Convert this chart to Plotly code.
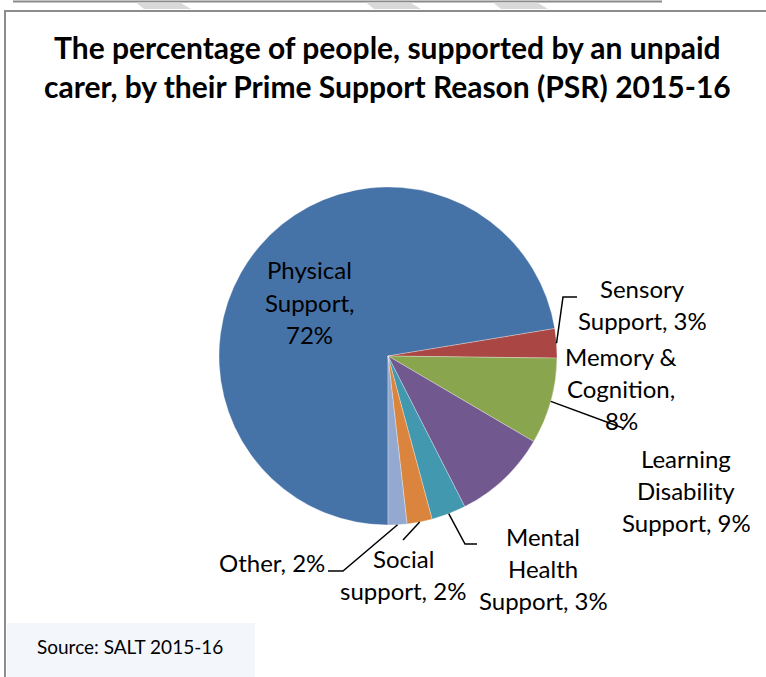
import math
import plotly.graph_objects as go

# Prime Support Reason shares (percent of people supported by an unpaid carer)
categories = [
    "Physical Support",
    "Sensory Support",
    "Memory & Cognition",
    "Learning Disability Support",
    "Mental Health Support",
    "Social support",
    "Other",
]
shares = [72.4, 2.8, 8.25, 9.05, 3.3, 2.4, 1.8]
colors = ["#4572A7", "#AA4643", "#89A54E", "#71588F", "#4198AF", "#DB843D", "#93A9CF"]

title_lines = [
    "The percentage of people, supported by an unpaid",
    "carer, by their Prime Support Reason (PSR) 2015-16",
]
source_text = "Source: SALT 2015-16"

# Label wrapping: name lines; the percentage is appended to the last entry
label_lines = [
    ["Physical", "Support,", ""],
    ["Sensory", "Support, "],
    ["Memory &", "Cognition,", ""],
    ["Learning", "Disability", "Support, "],
    ["Mental", "Health", "Support, "],
    ["Social", "support, "],
    ["Other, "],
]

W, H = 766, 677
FONT = "Lato"
CX, CY, R = 388, 356, 169          # pie centre and radius in pixels
START = 180                        # first slice starts at 6 o'clock


def px(x):
    return x / W


def py(y):
    return 1 - y / H


# label anchor (centre x, first-line y, alignment) and leader-line bends
label_pos = [
    (309, 270, "center"),
    (642, 288, "center"),
    (621, 356, "center"),
    (686, 458, "center"),
    (543, 536, "center"),
    (403, 558, "center"),
    (327, 562, "right"),
]
leader_bends = [
    None,
    [(563, 297), (577, 297)],
    [(623, 428)],
    None,
    [(465, 544), (477, 544)],
    [(403, 540)],
    [(343, 571), (328, 571)],
]
LINE_STEP = 32

fig = go.Figure()
fig.add_trace(
    go.Pie(
        labels=categories,
        values=shares,
        sort=False,
        direction="clockwise",
        rotation=START,
        textinfo="none",
        hoverinfo="label+percent",
        marker=dict(colors=colors, line=dict(color="rgba(255,255,255,0.6)", width=0.5)),
        domain=dict(x=[px(CX - R), px(CX + R)], y=[py(CY + R), py(CY - R)]),
        showlegend=False,
    )
)

shapes = []
annotations = []

# page decoration above the chart frame
shapes.append(dict(type="line", xref="paper", yref="paper",
                   x0=px(13), x1=px(662), y0=py(1.5), y1=py(1.5),
                   line=dict(color="#8a8a8a", width=2)))
for x0 in (136, 366, 493):
    path = (f"M {px(x0)} {py(2.5)} L {px(x0 + 44)} {py(2.5)} "
            f"L {px(x0 + 55)} {py(9)} L {px(x0 + 8)} {py(9)} Z")
    shapes.append(dict(type="path", xref="paper", yref="paper", path=path,
                       fillcolor="#d9d9d9", line=dict(width=0)))

# chart frame
shapes.append(dict(type="rect", xref="paper", yref="paper",
                   x0=px(5), x1=px(W + 10), y0=py(11), y1=py(H + 10),
                   line=dict(color="#8c8c8c", width=2), fillcolor="rgba(0,0,0,0)"))

# source box
shapes.append(dict(type="rect", xref="paper", yref="paper",
                   x0=px(7), x1=px(255), y0=py(623), y1=py(H + 2),
                   line=dict(width=0), fillcolor="#f3f6fb"))
annotations.append(dict(xref="paper", yref="paper", x=px(35), y=py(646),
                        xanchor="left", yanchor="middle", showarrow=False,
                        text=source_text, font=dict(family=FONT, size=19, color="#000000")))

# title
for i, line in enumerate(title_lines):
    annotations.append(dict(xref="paper", yref="paper", x=px(387), y=py(47 + 39 * i),
                            xanchor="center", yanchor="middle", showarrow=False,
                            text=f"<b>{line}</b>",
                            font=dict(family=FONT, size=30, color="#000000")))

# slice labels and leader lines
total = sum(shares)
cum = 0.0
for i, v in enumerate(shares):
    mid = START + 360 * (cum + v / 2) / total
    cum += v
    pct = f"{round(100 * v / total)}%"
    lines = list(label_lines[i])
    lines[-1] = lines[-1] + pct
    lx, ly, align = label_pos[i]
    anchor = "right" if align == "right" else "center"
    for j, t in enumerate(lines):
        annotations.append(dict(xref="paper", yref="paper", x=px(lx), y=py(ly + j * LINE_STEP),
                                xanchor=anchor, yanchor="middle", showarrow=False,
                                text=t, font=dict(family=FONT, size=24, color="#000000")))
    if leader_bends[i]:
        a = math.radians(mid)
        pts = [(CX + R * math.sin(a), CY - R * math.cos(a))] + leader_bends[i]
        path = "M " + " L ".join(f"{px(x)} {py(y)}" for x, y in pts)
        shapes.append(dict(type="path", xref="paper", yref="paper", path=path,
                           line=dict(color="#000000", width=1.5)))

fig.update_layout(
    width=W,
    height=H,
    margin=dict(l=0, r=0, t=0, b=0),
    paper_bgcolor="#ffffff",
    plot_bgcolor="#ffffff",
    shapes=shapes,
    annotations=annotations,
)

fig.write_html("out.html")
